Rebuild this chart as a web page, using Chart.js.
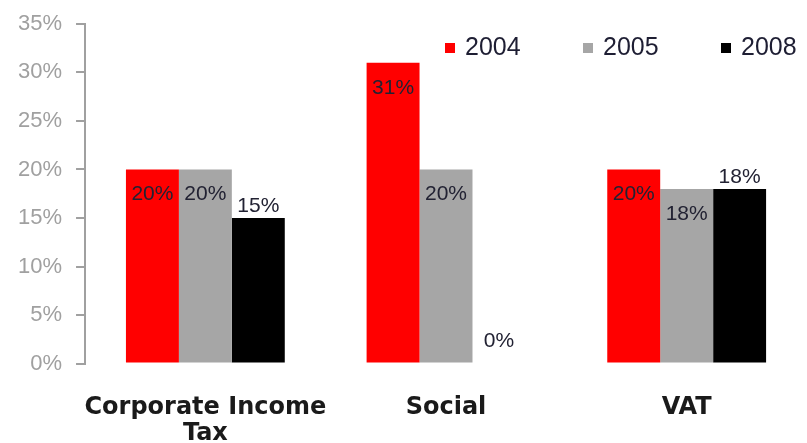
<!DOCTYPE html>
<html>
<head>
<meta charset="utf-8">
<script src="https://cdn.jsdelivr.net/npm/chart.js@4.4.0/dist/chart.umd.min.js"></script>
<style>
    html, body { margin: 0; padding: 0; background: #fff; }
    #wrap { width: 807px; height: 443px; position: relative; }
</style>
</head>
<body>
<div id="wrap"><canvas id="chart"></canvas></div>
<script>
// Chart data (percent)
const categories = [['Corporate Income', 'Tax'], 'Social', 'VAT'];
const seriesNames = ['2004', '2005', '2008'];
const values2004 = [20, 31, 20];
const values2005 = [20, 20, 18];
const values2008 = [15, 0, 18];
const seriesColors = ['#ff0000', '#a6a6a6', '#000000'];
const yMax = 35;
const yStep = 5;

// Value labels drawn on/above each bar
const valueLabels = {
    id: 'valueLabels',
    afterDatasetsDraw(chart) {
        const ctx = chart.ctx;
        ctx.save();
        ctx.font = '21px "Liberation Sans", Arial, sans-serif';
        ctx.fillStyle = '#222233';
        ctx.textAlign = 'center';
        ctx.textBaseline = 'middle';
        chart.data.datasets.forEach((ds, i) => {
            chart.getDatasetMeta(i).data.forEach((bar, j) => {
                const v = ds.data[j];
                let y;
                if (i === 2) {
                    y = bar.y - (v === 0 ? 22 : 12);
                } else {
                    y = bar.y + 25;
                }
                ctx.fillText(v + '%', bar.x, y);
            });
        });
        ctx.restore();
    }
};

// Legend in the top right of the plot
const topLegend = {
    id: 'topLegend',
    afterDraw(chart) {
        const ctx = chart.ctx;
        const startX = 445;
        const pitch = 138;
        const midY = 48;
        ctx.save();
        ctx.font = '25px "Liberation Sans", Arial, sans-serif';
        ctx.textBaseline = 'middle';
        ctx.textAlign = 'left';
        chart.data.datasets.forEach((ds, i) => {
            const x = startX + i * pitch;
            ctx.fillStyle = ds.backgroundColor;
            ctx.fillRect(x, midY - 5, 10, 10);
            ctx.fillStyle = '#1e1e33';
            ctx.fillText(ds.label, x + 20, midY);
        });
        ctx.restore();
    }
};

const ctx = document.getElementById('chart').getContext('2d');
const chart = new Chart(ctx, {
    type: 'bar',
    data: {
        labels: categories,
        datasets: [
            { label: seriesNames[0], data: values2004, backgroundColor: seriesColors[0] },
            { label: seriesNames[1], data: values2005, backgroundColor: seriesColors[1] },
            { label: seriesNames[2], data: values2008, backgroundColor: seriesColors[2] }
        ]
    },
    options: {
        responsive: true,
        maintainAspectRatio: false,
        animation: false,
        devicePixelRatio: 1,
        layout: {
            padding: { left: 4, right: 0, top: 10, bottom: -27 }
        },
        datasets: {
            bar: {
                categoryPercentage: 0.66,
                barPercentage: 1.0,
                borderWidth: 0
            }
        },
        plugins: {
            legend: { display: false },
            tooltip: { enabled: false }
        },
        scales: {
            x: {
                grid: { display: false },
                border: { display: false },
                ticks: {
                    padding: 24,
                    maxRotation: 0,
                    minRotation: 0,
                    autoSkip: false,
                    color: '#1a1a1a',
                    font: { family: '"DejaVu Sans", Verdana, sans-serif', size: 24, weight: 'bold', lineHeight: 1.05 }
                }
            },
            y: {
                min: 0,
                max: yMax,
                ticks: {
                    stepSize: yStep,
                    padding: 14,
                    color: '#a0a0a0',
                    font: { family: '"Liberation Sans", Arial, sans-serif', size: 22, lineHeight: 0.9 },
                    callback: v => v + '%'
                },
                grid: {
                    drawOnChartArea: false,
                    drawTicks: true,
                    tickLength: 9,
                    color: '#a0a0a0',
                    lineWidth: 2
                },
                border: { display: true, color: '#a0a0a0', width: 2 }
            }
        }
    },
    plugins: [valueLabels, topLegend]
});
</script>
</body>
</html>
